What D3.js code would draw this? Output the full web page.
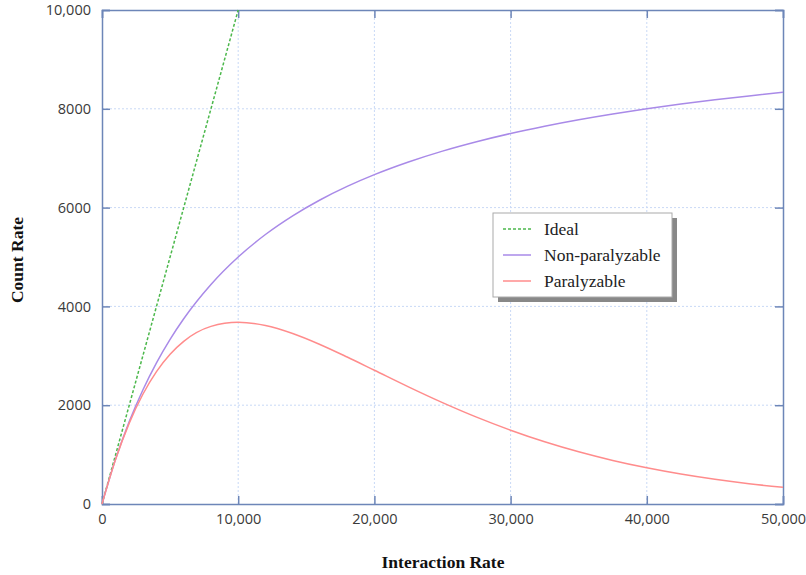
<!DOCTYPE html>
<html>
<head>
<meta charset="utf-8">
<script src="https://cdn.jsdelivr.net/npm/d3@7"></script>
<style>
body{margin:0;background:#fff;}
</style>
</head>
<body>
<script>
// values
const rates=[0,1000,2000,3000,4000,5000,6000,8000,10000,12000,14000,16000,18000,20000,22500,25000,27500,30000,32500,35000,37500,40000,42500,45000,47500,50000];
const nonPara=[0,909,1667,2308,2857,3333,3750,4444,5000,5455,5833,6154,6429,6667,6923,7143,7333,7500,7647,7778,7895,8000,8095,8182,8261,8333];
const para=[0,905,1637,2222,2681,3033,3293,3595,3679,3614,3452,3230,2975,2707,2371,2052,1758,1494,1260,1057,882,733,606,500,411,337];
const idealX=[0,10000];
const idealY=[0,10000];
const xTicks=[0,10000,20000,30000,40000,50000];
const yTicks=[0,2000,4000,6000,8000,10000];
const seriesNames=["Ideal","Non-paralyzable","Paralyzable"];
const seriesColors=["#4cb84c","#a98ae8","#ff8c8c"];

const w=806,h=575;
const pLeft=102,pRight=783,pTop=10,pBottom=504;

const svg=d3.select("body").append("svg").attr("width",w).attr("height",h)
    .style("font-family","'Open Sans', sans-serif");

const xScale=d3.scaleLinear().domain([0,50000]).range([pLeft,pRight]);
const yScale=d3.scaleLinear().domain([0,10000]).range([pBottom,pTop]);

const fmt=d=> d>=10000 ? d3.format(",")(d) : String(d);

//grid
svg.append("g").selectAll("line").data(xTicks.slice(1,-1)).enter().append("line")
    .attr("x1",d=>xScale(d)).attr("x2",d=>xScale(d)).attr("y1",pTop).attr("y2",pBottom)
    .attr("stroke","#c9d9f6").attr("stroke-dasharray","2,2")
svg.append("g").selectAll("line").data(yTicks.slice(1,-1)).enter().append("line")
    .attr("y1",d=>yScale(d)).attr("y2",d=>yScale(d)).attr("x1",pLeft).attr("x2",pRight)
    .attr("stroke","#c9d9f6").attr("stroke-dasharray","2,2")

//axes (ticks inward)
const axisCol="#6d86b8";
const xAxis=d3.axisBottom(xScale).tickValues(xTicks).tickSize(-8).tickPadding(10).tickFormat(fmt);
const yAxis=d3.axisLeft(yScale).tickValues(yTicks).tickSize(-8).tickPadding(11).tickFormat(fmt);
svg.append("g").attr("transform","translate(0,"+pBottom+")").call(xAxis);
svg.append("g").attr("transform","translate("+pLeft+",0)").call(yAxis);
svg.append("g").attr("transform","translate(0,"+pTop+")")
    .call(d3.axisTop(xScale).tickValues(xTicks).tickSize(-8).tickFormat(""));
svg.append("g").attr("transform","translate("+pRight+",0)")
    .call(d3.axisRight(yScale).tickValues(yTicks).tickSize(-8).tickFormat(""));
svg.selectAll(".domain").attr("stroke",axisCol).attr("stroke-width",1.5);
svg.selectAll(".tick line").attr("stroke",axisCol).attr("stroke-width",1.5);
svg.selectAll(".tick text").attr("fill","#3a3a3a").style("font-size","14.5px")
    .style("font-family","'Open Sans', sans-serif");

//lines
const line=d3.line().curve(d3.curveMonotoneX);
svg.append("path").datum(idealX.map((x,i)=>[xScale(x),yScale(idealY[i])]))
    .attr("d",line).attr("fill","none").attr("stroke",seriesColors[0])
    .attr("stroke-width",1.5).attr("stroke-dasharray","3,2")
svg.append("path").datum(rates.map((x,i)=>[xScale(x),yScale(nonPara[i])]))
    .attr("d",line).attr("fill","none").attr("stroke",seriesColors[1]).attr("stroke-width",1.5)
svg.append("path").datum(rates.map((x,i)=>[xScale(x),yScale(para[i])]))
    .attr("d",line).attr("fill","none").attr("stroke",seriesColors[2]).attr("stroke-width",1.5)

//axis titles
svg.append("text").attr("x",443).attr("y",568).attr("text-anchor","middle")
    .style("font-family","'Liberation Serif', serif").style("font-weight","bold").style("font-size","17.5px")
    .attr("fill","#111").text("Interaction Rate")
svg.append("text").attr("transform","translate(23,260) rotate(-90)").attr("text-anchor","middle")
    .style("font-family","'Liberation Serif', serif").style("font-weight","bold").style("font-size","17.5px")
    .attr("fill","#111").text("Count Rate")

//legend
const lx=493,ly=213,lw=179,lh=84;
svg.append("rect").attr("x",lx+5).attr("y",ly+5).attr("width",lw).attr("height",lh).attr("fill","#888");
svg.append("rect").attr("x",lx).attr("y",ly).attr("width",lw).attr("height",lh)
    .attr("fill","#fff").attr("stroke","#aaa");
const leg=svg.append("g").selectAll("g").data(seriesNames).enter().append("g")
    .attr("transform",(d,i)=>"translate("+lx+","+(ly+16+i*26)+")");
leg.append("line").attr("x1",10).attr("x2",38).attr("y1",0).attr("y2",0)
    .attr("stroke",(d,i)=>seriesColors[i]).attr("stroke-width",1.5)
    .attr("stroke-dasharray",(d,i)=>i==0?"3,2":null)
leg.append("text").attr("x",51).attr("y",6)
    .style("font-family","'Liberation Serif', serif").style("font-size","17.5px").attr("fill","#222")
    .text(d=>d)
</script>
</body>
</html>
